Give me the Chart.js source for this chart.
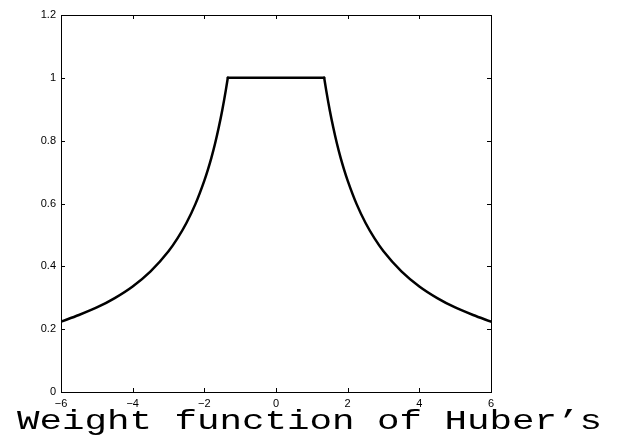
<!DOCTYPE html>
<html>
<head>
<meta charset="utf-8">
<script src="https://cdn.jsdelivr.net/npm/chart.js@4/dist/chart.umd.min.js"></script>
<style>
  html, body { margin: 0; padding: 0; background: #fff; }
  #box { width: 622px; height: 437px; }
</style>
</head>
<body>
<div id="box"><canvas id="huber"></canvas></div>
<script>
// values (Huber weight curve), in three pieces
const leftX = [-6, -5.5, -5, -4.5, -4, -3.5, -3, -2.75, -2.5, -2.25, -2, -1.9, -1.8, -1.7, -1.6, -1.5, -1.4, -1.345];
const leftW = [0.224, 0.245, 0.269, 0.299, 0.336, 0.384, 0.448, 0.489, 0.538, 0.598, 0.673, 0.708, 0.747, 0.791, 0.841, 0.897, 0.961, 1];
const flatX = [-1.345, 0, 1.345];
const flatW = [1, 1, 1];
const rightX = [1.345, 1.4, 1.5, 1.6, 1.7, 1.8, 1.9, 2, 2.25, 2.5, 2.75, 3, 3.5, 4, 4.5, 5, 5.5, 6];
const rightW = [1, 0.961, 0.897, 0.841, 0.791, 0.747, 0.708, 0.673, 0.598, 0.538, 0.489, 0.448, 0.384, 0.336, 0.299, 0.269, 0.245, 0.224];

const xTicks = [-6, -4, -2, 0, 2, 4, 6];
const xTickLabels = ["\u22126", "\u22124", "\u22122", "0", "2", "4", "6"];
const yTicks = [0, 0.2, 0.4, 0.6, 0.8, 1, 1.2];
const yTickLabels = ["0", "0.2", "0.4", "0.6", "0.8", "1", "1.2"];
const titleText = "Weight function of Huber\u2019s";

function toPoints(xs, ws) {
  return xs.map((x, i) => ({ x: x, y: ws[i] }));
}

function piece(xs, ws) {
  return {
    data: toPoints(xs, ws),
    showLine: true,
    borderColor: "#000",
    borderWidth: 2.5,
    pointRadius: 0,
    cubicInterpolationMode: "monotone",
    borderCapStyle: "round",
    fill: false
  };
}

// box around the plot with inward ticks, like matlab
const boxPlugin = {
  id: "boxPlugin",
  afterDatasetsDraw(chart) {
    const ctx = chart.ctx;
    const a = chart.chartArea;
    const xs = chart.scales.x;
    const ys = chart.scales.y;
    ctx.save();
    ctx.strokeStyle = "#000";
    ctx.lineWidth = 1;
    ctx.strokeRect(Math.round(a.left) + 0.5, Math.round(a.top) + 0.5,
      Math.round(a.right - a.left), Math.round(a.bottom - a.top));
    ctx.beginPath();
    xs.ticks.forEach(t => {
      const px = Math.round(xs.getPixelForValue(t.value)) + 0.5;
      ctx.moveTo(px, a.bottom); ctx.lineTo(px, a.bottom - 4);
      ctx.moveTo(px, a.top); ctx.lineTo(px, a.top + 4);
    });
    ys.ticks.forEach(t => {
      const py = Math.round(ys.getPixelForValue(t.value)) + 0.5;
      ctx.moveTo(a.left, py); ctx.lineTo(a.left + 4, py);
      ctx.moveTo(a.right, py); ctx.lineTo(a.right - 4, py);
    });
    ctx.stroke();
    ctx.restore();
  },
  afterDraw(chart) {
    // wide courier-like caption under the plot
    const ctx = chart.ctx;
    ctx.save();
    ctx.font = "27px 'Liberation Mono'";
    ctx.fillStyle = "#000";
    ctx.textBaseline = "alphabetic";
    const w = ctx.measureText(titleText).width;
    const sx = 585 / w;
    ctx.translate(17, 429);
    ctx.scale(sx, 1);
    ctx.fillText(titleText, 0, 0);
    ctx.restore();
  }
};

new Chart(document.querySelector("#huber"), {
  type: "scatter",
  data: {
    datasets: [piece(leftX, leftW), piece(flatX, flatW), piece(rightX, rightW)]
  },
  options: {
    responsive: true,
    maintainAspectRatio: false,
    animation: false,
    layout: { padding: { left: 0, right: 131, top: 15, bottom: 0 } },
    plugins: { legend: { display: false }, tooltip: { enabled: false } },
    scales: {
      x: {
        type: "linear",
        min: -6,
        max: 6,
        afterBuildTicks: s => { s.ticks = xTicks.map(v => ({ value: v })); },
        afterFit: s => { s.height = 45; },
        grid: { display: false, drawTicks: false },
        border: { display: false },
        ticks: {
          color: "#000",
          padding: 5,
          maxRotation: 0,
          font: { family: "'Liberation Sans'", size: 11 },
          callback: v => xTickLabels[xTicks.indexOf(v)]
        }
      },
      y: {
        min: 0,
        max: 1.2,
        afterBuildTicks: s => { s.ticks = yTicks.map(v => ({ value: v })); },
        afterFit: s => { s.width = 61; },
        grid: { display: false, drawTicks: false },
        border: { display: false },
        ticks: {
          color: "#000",
          padding: 5,
          font: { family: "'Liberation Sans'", size: 11 },
          callback: v => yTickLabels[yTicks.findIndex(t => Math.abs(t - v) < 1e-9)]
        }
      }
    }
  },
  plugins: [boxPlugin]
});
</script>
</body>
</html>
